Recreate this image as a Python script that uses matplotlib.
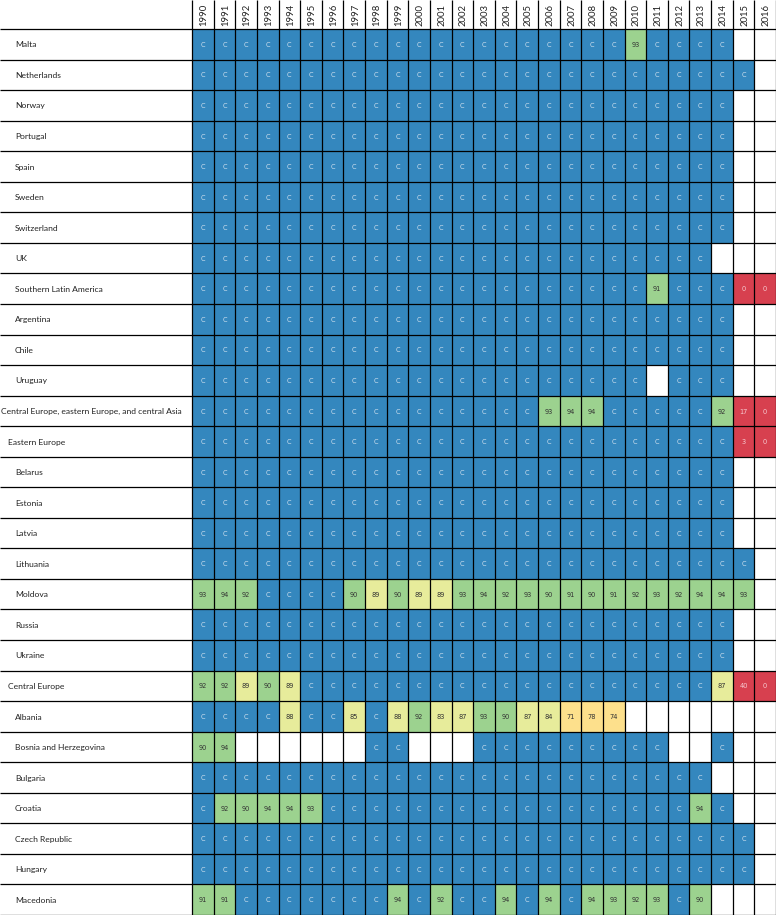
import matplotlib
matplotlib.use("Agg")
import matplotlib.pyplot as plt
from matplotlib.patches import Rectangle

C = "C"
N = None

years = list(range(1990, 2017))

labels = [
    "Malta", "Netherlands", "Norway", "Portugal", "Spain", "Sweden", "Switzerland", "UK",
    "Southern Latin America", "Argentina", "Chile", "Uruguay",
    "Central Europe, eastern Europe, and central Asia", "Eastern Europe",
    "Belarus", "Estonia", "Latvia", "Lithuania", "Moldova", "Russia", "Ukraine",
    "Central Europe", "Albania", "Bosnia and Herzegovina", "Bulgaria", "Croatia",
    "Czech Republic", "Hungary", "Macedonia",
]
indent = [2, 2, 2, 2, 2, 2, 2, 2,
          2, 2, 2, 2,
          0, 1,
          2, 2, 2, 2, 2, 2, 2,
          1, 2, 2, 2, 2, 2, 2, 2]

#            90 91 92 93 94 95 96 97 98 99 00 01 02 03 04 05 06 07 08 09 10 11 12 13 14 15 16
malta       = [C, C, C, C, C, C, C, C, C, C, C, C, C, C, C, C, C, C, C, C, 93, C, C, C, C, N, N]
netherlands = [C, C, C, C, C, C, C, C, C, C, C, C, C, C, C, C, C, C, C, C, C, C, C, C, C, C, N]
norway      = [C, C, C, C, C, C, C, C, C, C, C, C, C, C, C, C, C, C, C, C, C, C, C, C, C, N, N]
portugal    = [C, C, C, C, C, C, C, C, C, C, C, C, C, C, C, C, C, C, C, C, C, C, C, C, C, N, N]
spain       = [C, C, C, C, C, C, C, C, C, C, C, C, C, C, C, C, C, C, C, C, C, C, C, C, C, N, N]
sweden      = [C, C, C, C, C, C, C, C, C, C, C, C, C, C, C, C, C, C, C, C, C, C, C, C, C, N, N]
switzerland = [C, C, C, C, C, C, C, C, C, C, C, C, C, C, C, C, C, C, C, C, C, C, C, C, C, N, N]
uk          = [C, C, C, C, C, C, C, C, C, C, C, C, C, C, C, C, C, C, C, C, C, C, C, C, N, N, N]
s_latam     = [C, C, C, C, C, C, C, C, C, C, C, C, C, C, C, C, C, C, C, C, C, 91, C, C, C, 0, 0]
argentina   = [C, C, C, C, C, C, C, C, C, C, C, C, C, C, C, C, C, C, C, C, C, C, C, C, C, N, N]
chile       = [C, C, C, C, C, C, C, C, C, C, C, C, C, C, C, C, C, C, C, C, C, C, C, C, C, N, N]
uruguay     = [C, C, C, C, C, C, C, C, C, C, C, C, C, C, C, C, C, C, C, C, C, N, C, C, C, N, N]
ce_ee_ca    = [C, C, C, C, C, C, C, C, C, C, C, C, C, C, C, C, 93, 94, 94, C, C, C, C, C, 92, 17, 0]
e_europe    = [C, C, C, C, C, C, C, C, C, C, C, C, C, C, C, C, C, C, C, C, C, C, C, C, C, 3, 0]
belarus     = [C, C, C, C, C, C, C, C, C, C, C, C, C, C, C, C, C, C, C, C, C, C, C, C, C, N, N]
estonia     = [C, C, C, C, C, C, C, C, C, C, C, C, C, C, C, C, C, C, C, C, C, C, C, C, C, N, N]
latvia      = [C, C, C, C, C, C, C, C, C, C, C, C, C, C, C, C, C, C, C, C, C, C, C, C, C, N, N]
lithuania   = [C, C, C, C, C, C, C, C, C, C, C, C, C, C, C, C, C, C, C, C, C, C, C, C, C, C, N]
moldova     = [93, 94, 92, C, C, C, C, 90, 89, 90, 89, 89, 93, 94, 92, 93, 90, 91, 90, 91, 92, 93, 92, 94, 94, 93, N]
russia      = [C, C, C, C, C, C, C, C, C, C, C, C, C, C, C, C, C, C, C, C, C, C, C, C, C, N, N]
ukraine     = [C, C, C, C, C, C, C, C, C, C, C, C, C, C, C, C, C, C, C, C, C, C, C, C, C, N, N]
c_europe    = [92, 92, 89, 90, 89, C, C, C, C, C, C, C, C, C, C, C, C, C, C, C, C, C, C, C, 87, 40, 0]
albania     = [C, C, C, C, 88, C, C, 85, C, 88, 92, 83, 87, 93, 90, 87, 84, 71, 78, 74, N, N, N, N, N, N, N]
bosnia      = [90, 94, N, N, N, N, N, N, C, C, N, N, N, C, C, C, C, C, C, C, C, C, N, N, C, N, N]
bulgaria    = [C, C, C, C, C, C, C, C, C, C, C, C, C, C, C, C, C, C, C, C, C, C, C, C, N, N, N]
croatia     = [C, 92, 90, 94, 94, 93, C, C, C, C, C, C, C, C, C, C, C, C, C, C, C, C, C, 94, C, N, N]
czech       = [C, C, C, C, C, C, C, C, C, C, C, C, C, C, C, C, C, C, C, C, C, C, C, C, C, C, N]
hungary     = [C, C, C, C, C, C, C, C, C, C, C, C, C, C, C, C, C, C, C, C, C, C, C, C, C, C, N]
macedonia   = [91, 91, C, C, C, C, C, C, C, 94, C, 92, C, C, 94, C, 94, C, 94, 93, 92, 93, C, 90, N, N, N]

rows = [malta, netherlands, norway, portugal, spain, sweden, switzerland, uk,
        s_latam, argentina, chile, uruguay, ce_ee_ca, e_europe,
        belarus, estonia, latvia, lithuania, moldova, russia, ukraine,
        c_europe, albania, bosnia, bulgaria, croatia, czech, hungary, macedonia]

BLUE = "#3487be"
GREEN = "#9cd28f"
LYELLOW = "#e7ec9b"
ORANGE = "#fde08c"
RED = "#d7404f"

LABEL_FONT = ["Lato", "DejaVu Sans"]


def cell_style(v):
    if v == C:
        return BLUE, "#cfe0ee", "C"
    if v >= 90:
        return GREEN, "#333333", str(v)
    if v >= 80:
        return LYELLOW, "#333333", str(v)
    if v >= 70:
        return ORANGE, "#333333", str(v)
    return RED, "#f6c9cf", str(v)


W, H = 776, 915
fig = plt.figure(figsize=(W / 100, H / 100), dpi=100)
x0, top = 192, 29
ax = fig.add_axes([x0 / W, 0, (W - x0) / W, (H - top) / H])
ncol, nrow = len(years), len(rows)
ax.set_xlim(0, ncol)
ax.set_ylim(nrow, 0)
ax.axis("off")

colw = (W - x0) / ncol
rowh = (H - top) / nrow
left_ext = -x0 / colw
head_ext = -top / rowh

for i, row in enumerate(rows):
    for j, v in enumerate(row):
        if v is None:
            continue
        fc, tc, txt = cell_style(v)
        ax.add_patch(Rectangle((j, i), 1, 1, facecolor=fc, edgecolor="none"))
        ax.text(j + 0.5, i + 0.52, txt, ha="center", va="center",
                fontsize=4.8, color=tc, family="DejaVu Sans")

# grid lines
for i in range(nrow + 1):
    ax.plot([left_ext, ncol], [i, i], color="black", lw=0.9, clip_on=False,
            solid_capstyle="butt")
for j in range(ncol + 1):
    ax.plot([j, j], [head_ext, nrow], color="black", lw=0.9, clip_on=False,
            solid_capstyle="butt")

# row labels
for i, (lab, ind) in enumerate(zip(labels, indent)):
    ax.text(left_ext + (1 + 7 * ind) / colw, i + 0.52, lab, ha="left", va="center",
            fontsize=6.1, color="#222222", family=LABEL_FONT)

# year headers
for j, y in enumerate(years):
    ax.text(j + 0.55, head_ext / 2, str(y), ha="center", va="center", rotation=90,
            fontsize=6.8, color="#222222", family=LABEL_FONT, clip_on=False)

fig.savefig("out.png", dpi=100)
